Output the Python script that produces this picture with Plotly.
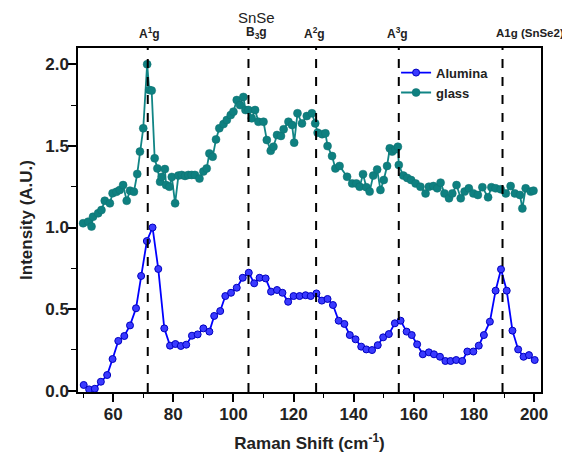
import plotly.graph_objects as go

# ---------------- data ----------------
alumina_x = [50.2, 52.0, 53.9, 55.9, 58.0, 59.8, 61.7, 63.7, 65.6, 67.6, 69.3, 71.2, 73.1, 75.0,
             77.0, 78.9, 80.7, 82.5, 84.3, 86.2, 88.1, 90.0, 92.0, 93.6, 95.6, 97.3, 99.2, 101.1,
             103.1, 105.1, 106.9, 108.7, 110.7, 112.5, 114.5, 116.3, 118.2, 120.0, 122.0, 124.0,
             125.7, 127.6, 129.4, 131.3, 133.1, 135.0, 136.9, 138.7, 140.6, 142.5, 144.2, 146.1,
             148.0, 149.8, 151.7, 153.7, 155.6, 157.6, 159.3, 161.1, 163.0, 165.0, 166.7, 168.7,
             170.5, 172.2, 174.1, 176.1, 177.8, 179.8, 181.6, 183.3, 185.3, 187.2, 189.0, 190.9,
             192.8, 194.7, 196.5, 198.3, 200.2]
alumina_y = [0.035, 0.008, 0.012, 0.055, 0.096, 0.194, 0.305, 0.335, 0.40, 0.505, 0.703, 0.917, 1.0, 0.746,
             0.382, 0.276, 0.286, 0.274, 0.282, 0.337, 0.345, 0.382, 0.362, 0.458, 0.488, 0.58, 0.60, 0.631,
             0.692, 0.723, 0.658, 0.692, 0.688, 0.607, 0.617, 0.60, 0.545, 0.58, 0.58, 0.585,
             0.58, 0.596, 0.552, 0.562, 0.525, 0.429, 0.409, 0.341, 0.315, 0.27, 0.253, 0.249,
             0.279, 0.327, 0.347, 0.413, 0.429, 0.362, 0.341, 0.284, 0.223, 0.235, 0.223, 0.208,
             0.182, 0.182, 0.188, 0.182, 0.24, 0.24, 0.276, 0.341, 0.423, 0.613, 0.744, 0.613,
             0.368, 0.253, 0.208, 0.218, 0.188]

glass_x = [50.0, 51.7, 52.8, 53.3, 55.0, 56.1, 57.2, 58.9, 59.8, 61.1, 62.2, 63.3, 64.5, 65.6, 66.9,
           68.0, 68.9, 70.0, 71.3, 72.0, 72.8, 73.8, 74.7, 75.6, 76.1, 77.2, 77.6, 78.7, 79.5, 80.6,
           81.7, 82.8, 83.9, 85.0, 86.1, 87.2, 88.7, 90.0, 91.1, 92.0, 93.1, 94.2, 95.3, 96.7, 97.8,
           99.1, 100.0, 101.1, 102.2, 103.3, 104.0, 105.0, 106.1, 107.2, 108.3, 110.0, 111.1, 112.4,
           113.3, 114.5, 115.8, 116.7, 118.3, 119.5, 120.2, 121.3, 122.8, 124.4, 126.1, 127.2, 128.0,
           129.5, 130.6, 131.3, 132.8, 133.9, 135.3, 137.8, 139.5, 140.9, 142.0, 143.1, 144.2, 145.3,
           146.5, 147.8, 148.9, 150.0, 151.1, 152.0, 152.8, 153.9, 154.7, 155.0, 156.5, 157.8, 159.1,
           160.6, 162.2, 163.9, 165.0, 166.5, 167.8, 168.9, 170.2, 171.7, 172.8, 174.2, 175.6, 176.9,
           178.3, 179.8, 181.3, 182.8, 184.7, 185.8, 187.2, 188.9, 190.6, 192.2, 193.6, 195.3, 196.1,
           197.2, 198.9, 199.8]
glass_y = [1.026, 1.036, 1.006, 1.066, 1.087, 1.107, 1.164, 1.148, 1.21, 1.219, 1.23, 1.26, 1.164, 1.226, 1.219,
           1.328, 1.465, 1.608, 2.0, 1.843, 1.839, 1.424, 1.362, 1.28, 1.31, 1.358, 1.26, 1.25, 1.31, 1.148,
           1.318, 1.322, 1.316, 1.322, 1.322, 1.322, 1.30, 1.343, 1.362, 1.454, 1.434, 1.54, 1.608, 1.634, 1.659,
           1.689, 1.71, 1.781, 1.75, 1.80, 1.72, 1.72, 1.669, 1.72, 1.648, 1.648, 1.536, 1.47,
           1.495, 1.567, 1.561, 1.602, 1.648, 1.628, 1.52, 1.70, 1.638, 1.683, 1.70, 1.638, 1.581,
           1.572, 1.577, 1.499, 1.438, 1.362, 1.377, 1.311, 1.27, 1.27, 1.25, 1.327, 1.247, 1.22,
           1.318, 1.355, 1.23, 1.291, 1.377, 1.485, 1.465, 1.479, 1.495, 1.383, 1.318, 1.304, 1.291,
           1.27, 1.25, 1.209, 1.25, 1.254, 1.24, 1.275, 1.209, 1.179, 1.209, 1.26, 1.179, 1.22,
           1.24, 1.209, 1.199, 1.247, 1.185, 1.247, 1.24, 1.234, 1.209, 1.254, 1.209, 1.199, 1.117,
           1.24, 1.22, 1.226]

mode_positions = [71.5, 105.0, 127.5, 155.0, 189.5]
mode_labels = ["A<sup>1</sup>g", "B<sub>3</sub>g", "A<sup>2</sup>g", "A<sup>3</sup>g"]
label_positions = [72.2, 107.8, 126.9, 154.5]
last_label = "A1g (SnSe2)"

x_ticks = [60, 80, 100, 120, 140, 160, 180, 200]
y_ticks = [0.0, 0.5, 1.0, 1.5, 2.0]
y_ticklabels = ["0.0", "0.5", "1.0", "1.5", "2.0"]

# ---------------- figure ----------------
FONT = "Liberation Sans, Arial, sans-serif"

fig = go.Figure()
fig.add_trace(go.Scatter(
    x=alumina_x, y=alumina_y, mode="lines+markers", name="<b>Alumina</b>",
    line=dict(color="#0000ff", width=1.8),
    marker=dict(size=7, color="#3a3aff", line=dict(color="#0000c0", width=1)),
))
fig.add_trace(go.Scatter(
    x=glass_x, y=glass_y, mode="lines+markers", name="<b>glass</b>",
    line=dict(color="#118585", width=1.8),
    marker=dict(size=8, color="#0e8080", line=dict(color="#0e7070", width=0.5)),
))

for xp in mode_positions:
    fig.add_shape(type="line", xref="x", yref="paper", x0=xp, x1=xp, y0=0, y1=1,
                  line=dict(color="black", width=2, dash="dash"), layer="above")

for xp, lab in zip(label_positions, mode_labels):
    fig.add_annotation(x=xp, y=1.043, xref="x", yref="paper", text="<b>" + lab + "</b>",
                       showarrow=False, font=dict(family=FONT, size=12, color="#222"),
                       xanchor="center", yanchor="middle")
fig.add_annotation(x=1.054, y=1.043, xref="paper", yref="paper", text="<b>" + last_label + "</b>",
                   showarrow=False, font=dict(family=FONT, size=11.5, color="#222"),
                   xanchor="right", yanchor="middle")

fig.add_annotation(x=107.6, y=1.1163, xref="x", yref="paper", text="SnSe", showarrow=False,
                   font=dict(family=FONT, size=15, color="#222"), xanchor="center", yanchor="top",
                   borderpad=0)

axis_common = dict(
    showline=True, linecolor="black", linewidth=1.5, mirror=True,
    ticks="outside", ticklen=8, tickwidth=1.5, tickcolor="black",
    showgrid=False, zeroline=False, automargin=False,
    tickfont=dict(family=FONT, size=17, color="#222"),
)

fig.update_xaxes(
    range=[48.3, 202.3], tickvals=x_ticks, ticktext=[f"<b>{v}</b>" for v in x_ticks],
    title=dict(text="<b>Raman Shift (cm<sup>-1</sup>)</b>", font=dict(family=FONT, size=17, color="#222"),
               standoff=14),
    minor=dict(dtick=10, tick0=50, ticks="outside", ticklen=4, tickwidth=1.2, tickcolor="black"),
    ticklabelstandoff=-2,
    **axis_common,
)
fig.update_yaxes(
    range=[-0.008, 2.1], tickvals=y_ticks, ticktext=[f"<b>{v}</b>" for v in y_ticklabels],
    title=dict(text="<b>Intensity (A.U.)</b>", font=dict(family=FONT, size=17, color="#222"),
               standoff=8),
    minor=dict(dtick=0.25, tick0=0, ticks="outside", ticklen=5, tickwidth=1.2, tickcolor="black"),
    ticklabelstandoff=-4,
    **axis_common,
)

# page body has an 8px default margin: compensate so the plot area lands where the reference has it
fig.update_layout(
    width=570, height=458,
    margin=dict(l=70, r=37, t=40, b=74),
    paper_bgcolor="white", plot_bgcolor="white",
    showlegend=True,
    legend=dict(x=0.687, y=0.972, xanchor="left", yanchor="top",
                bgcolor="rgba(0,0,0,0)", borderwidth=0,
                font=dict(family=FONT, size=13, color="#222"), tracegroupgap=0,
                itemwidth=30),
)

fig.write_html("out.html")
